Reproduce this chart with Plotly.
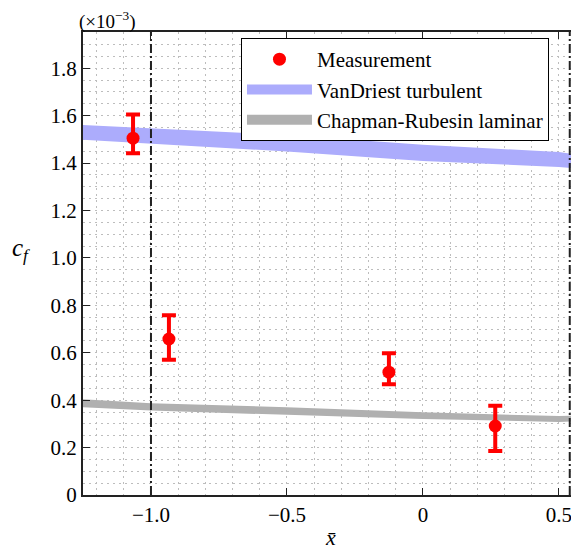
import plotly.graph_objects as go

# ---- data ----
meas_x = [-1.066, -0.934, -0.125, 0.266]
meas_y = [1.505, 0.658, 0.518, 0.291]
meas_err_plus = [0.100, 0.100, 0.080, 0.085]
meas_err_minus = [0.063, 0.088, 0.051, 0.105]

band_x = [-1.25, -1.0, -0.5, 0.0, 0.5, 0.575]
vd_upper = [1.561, 1.547, 1.519, 1.477, 1.447, 1.435]
vd_lower = [1.498, 1.481, 1.449, 1.409, 1.384, 1.376]
cr_upper = [0.404, 0.387, 0.370, 0.349, 0.333, 0.336]
cr_lower = [0.370, 0.356, 0.338, 0.321, 0.308, 0.311]

boundary_x = [-1.0, 0.54]

x_tickvals = [-1.0, -0.5, 0.0, 0.5]
x_ticktext = ["\u22121.0", "\u22120.5", "0", "0.5"]
y_tickvals = [0, 0.2, 0.4, 0.6, 0.8, 1.0, 1.2, 1.4, 1.6, 1.8]
y_ticktext = ["0", "0.2", "0.4", "0.6", "0.8", "1.0", "1.2", "1.4", "1.6", "1.8"]

BLUE = "#acacfc"
GRAY = "#b0b0b0"
RED = "#ff0000"
FONT = "Liberation Serif, Times New Roman, DejaVu Serif, serif"

fig = go.Figure()

# bands
fig.add_trace(go.Scatter(x=band_x, y=vd_lower, mode="lines", line=dict(width=0, color=BLUE),
                         showlegend=False, hoverinfo="skip"))
fig.add_trace(go.Scatter(x=band_x, y=vd_upper, mode="lines", line=dict(width=0, color=BLUE),
                         fill="tonexty", fillcolor=BLUE, showlegend=False, hoverinfo="skip"))
fig.add_trace(go.Scatter(x=band_x, y=cr_lower, mode="lines", line=dict(width=0, color=GRAY),
                         showlegend=False, hoverinfo="skip"))
fig.add_trace(go.Scatter(x=band_x, y=cr_upper, mode="lines", line=dict(width=0, color=GRAY),
                         fill="tonexty", fillcolor=GRAY, showlegend=False, hoverinfo="skip"))

# measurements
fig.add_trace(go.Scatter(
    x=meas_x, y=meas_y, mode="markers", name="Measurement",
    marker=dict(color=RED, size=13, symbol="circle"),
    error_y=dict(type="data", symmetric=False, array=meas_err_plus, arrayminus=meas_err_minus,
                 color=RED, thickness=4, width=7),
))

# legend-only entries for bands
fig.add_trace(go.Scatter(x=[None], y=[None], mode="lines", name="VanDriest turbulent",
                         line=dict(color=BLUE, width=20)))
fig.add_trace(go.Scatter(x=[None], y=[None], mode="lines", name="Chapman-Rubesin laminar",
                         line=dict(color=GRAY, width=20)))

for bx in boundary_x:
    fig.add_vline(x=bx, line=dict(color="#222222", width=2, dash="9px,3px,2px,3px"))

grid_col = "#bdbdbd"
grid_dash = "1.5px,4.5px"
fig.update_xaxes(
    range=[-1.25, 0.574], tickvals=x_tickvals, ticktext=x_ticktext,
    ticks="inside", ticklen=7, tickwidth=1, tickcolor="#222",
    showline=True, linewidth=2, linecolor="#222", mirror="ticks",
    showgrid=True, gridcolor=grid_col, griddash=grid_dash, gridwidth=1,
    minor=dict(dtick=0.1, tick0=0, showgrid=True, gridcolor=grid_col, griddash=grid_dash, ticks=""),
    zeroline=False, tickfont=dict(family=FONT, size=21, color="black"),
    title=dict(text="<i>x̄</i>", font=dict(family=FONT, size=22, color="black"), standoff=3),
)
fig.update_yaxes(
    range=[0, 1.953], tickvals=y_tickvals, ticktext=y_ticktext,
    ticks="inside", ticklen=7, tickwidth=1, tickcolor="#222",
    showline=True, linewidth=2, linecolor="#222", mirror=False,
    showgrid=True, gridcolor=grid_col, griddash=grid_dash, gridwidth=1,
    minor=dict(dtick=0.05, tick0=0, showgrid=True, gridcolor=grid_col, griddash=grid_dash, ticks=""),
    zeroline=False, tickfont=dict(family=FONT, size=21, color="black"),
)

fig.add_annotation(text="<i>c<sub>f</sub></i>", xref="paper", yref="paper", x=-0.125, y=0.53,
                   showarrow=False, font=dict(family=FONT, size=25, color="black"),
                   xanchor="center", yanchor="middle")
fig.add_annotation(text="(×10<sup>−3</sup>)", xref="paper", yref="paper", x=-0.012, y=1.0,
                   showarrow=False, font=dict(family=FONT, size=19, color="black"),
                   xanchor="left", yanchor="middle", yshift=12)

# page body has an 8px margin, so the figure is sized to end at the window edge
fig.update_layout(
    width=571, height=542,
    margin=dict(l=75, r=0, t=24, b=55),
    plot_bgcolor="white", paper_bgcolor="white",
    legend=dict(x=0.3185, y=0.987, xanchor="left", yanchor="top",
                bgcolor="white", bordercolor="black", borderwidth=1,
                font=dict(family=FONT, size=21, color="black"), itemwidth=65,
                traceorder="normal", tracegroupgap=0),
    font=dict(family=FONT),
)

fig.write_html("out.html")
